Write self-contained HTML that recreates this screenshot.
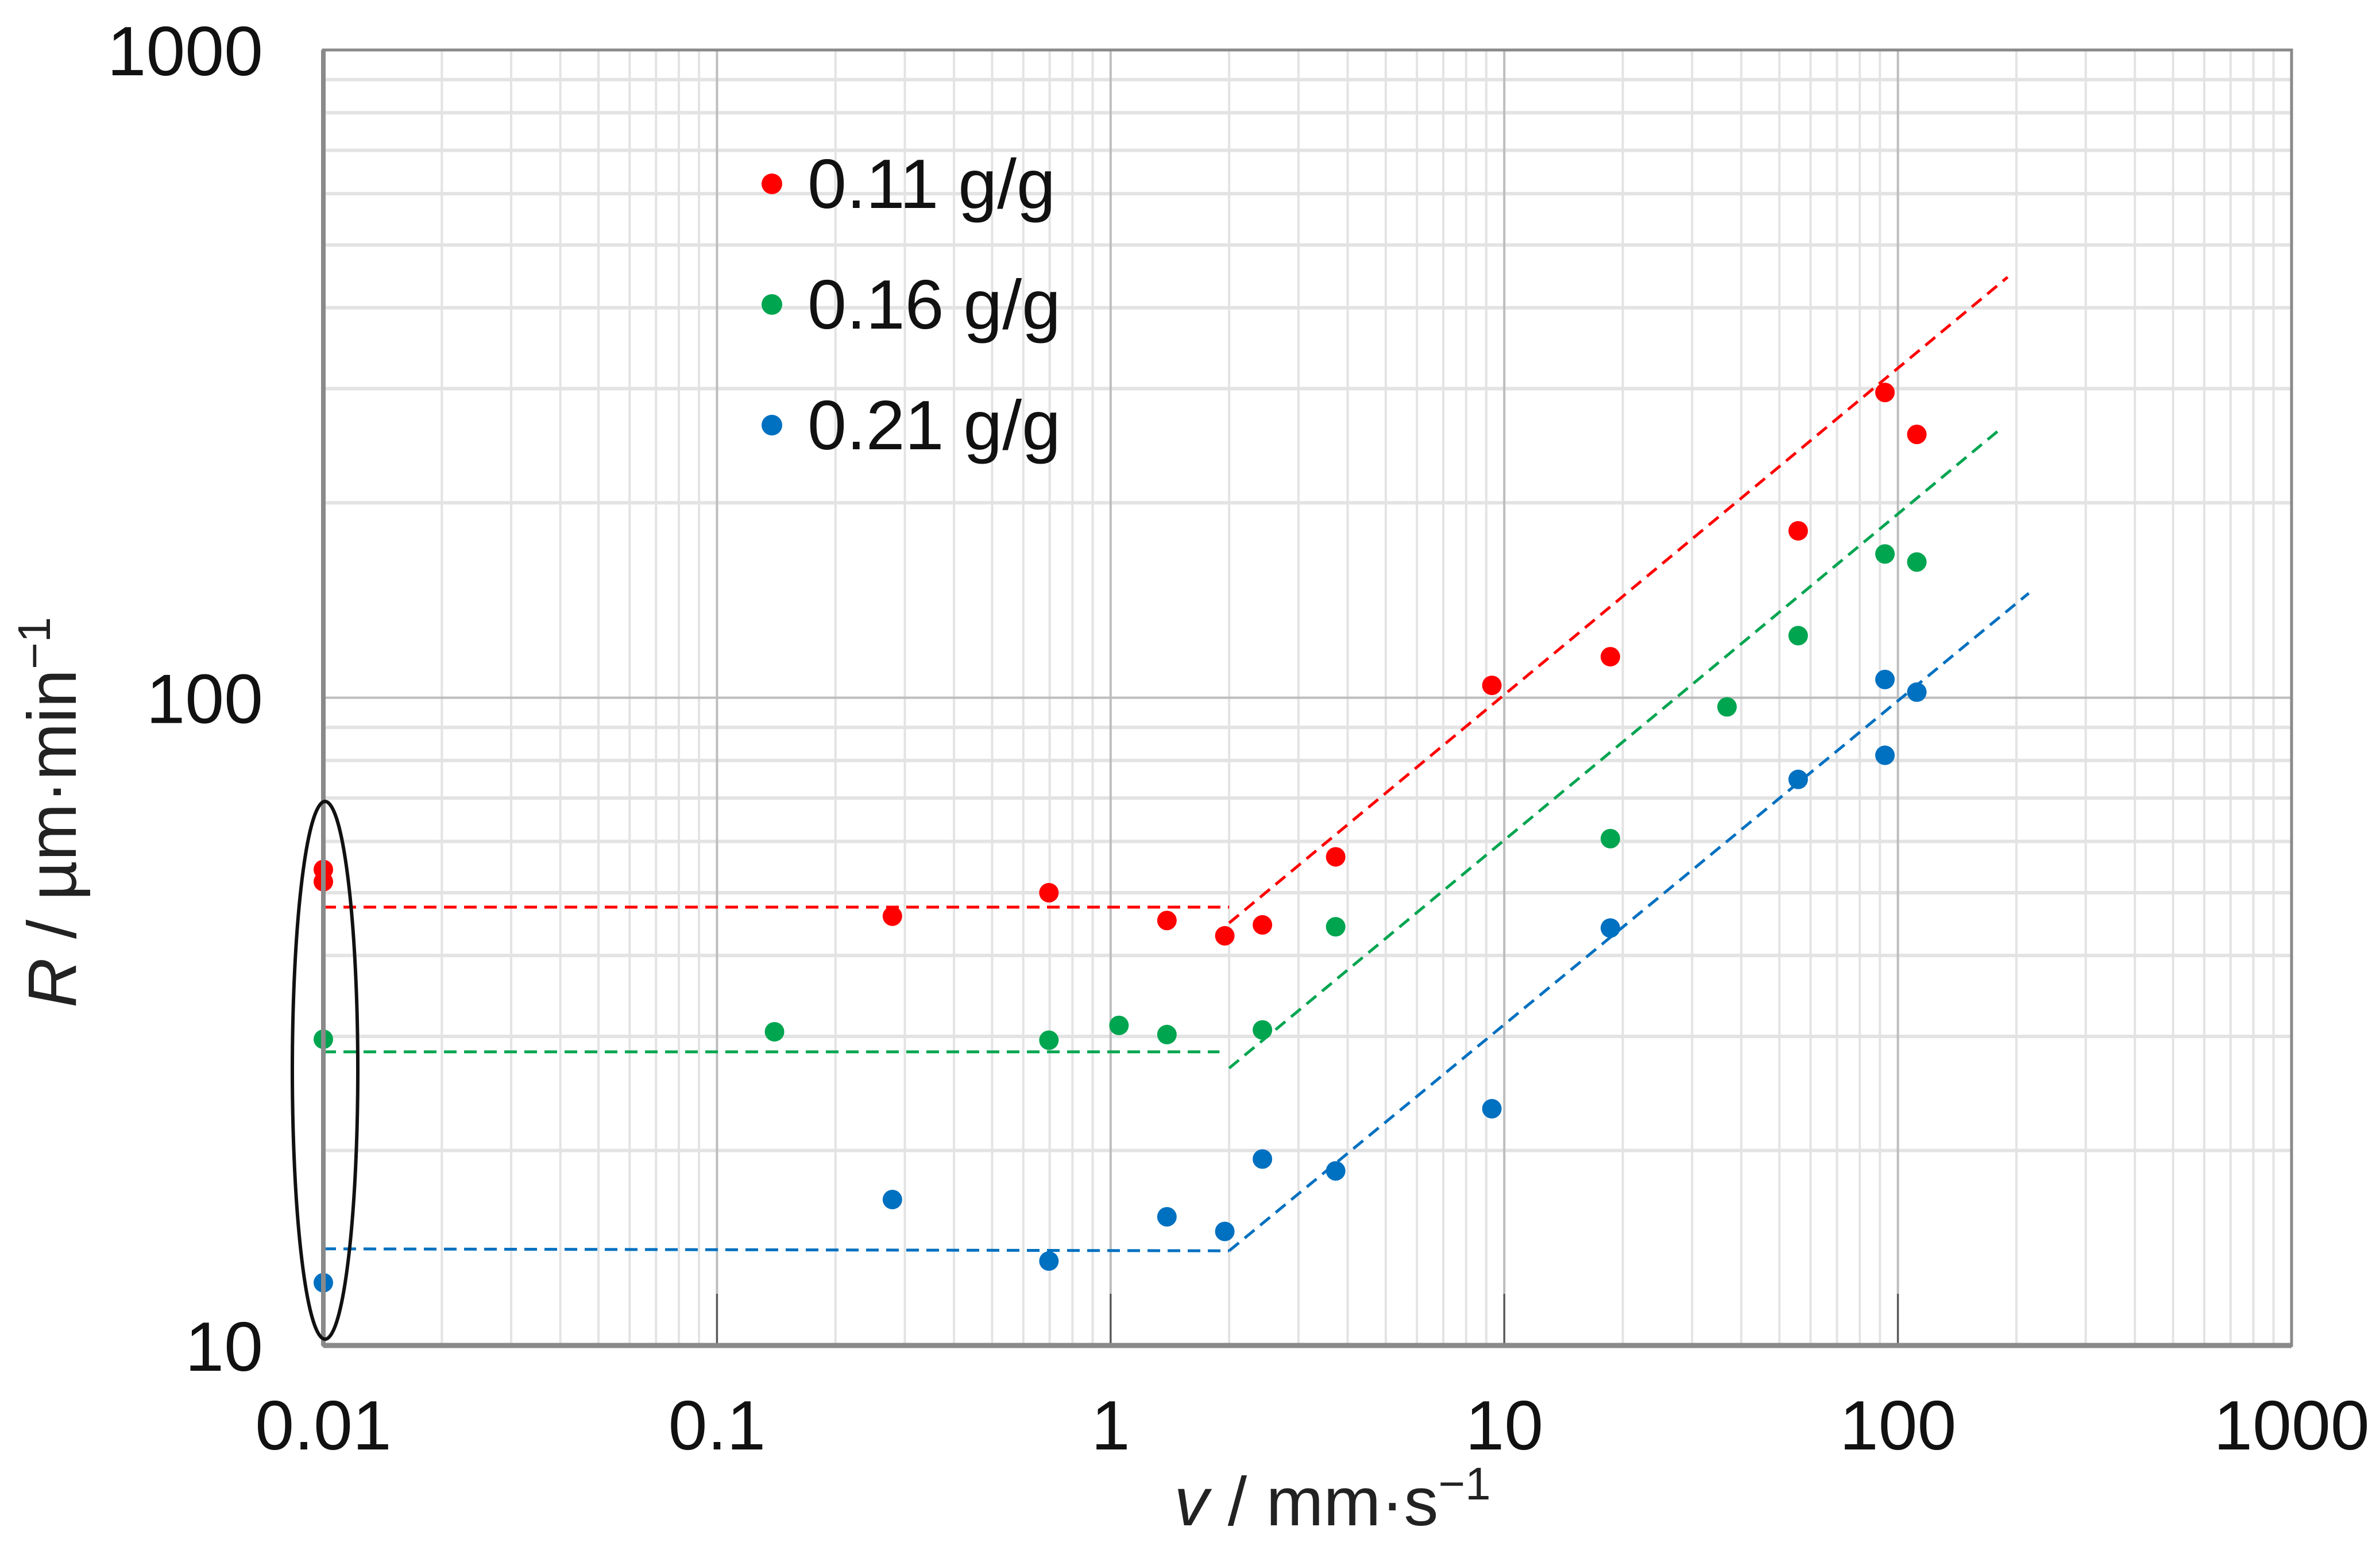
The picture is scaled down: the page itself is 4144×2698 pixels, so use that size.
<!DOCTYPE html>
<html><head><meta charset="utf-8"><style>
html,body{margin:0;padding:0;background:#fff;}
svg{display:block;font-family:"Liberation Sans",sans-serif;}
</style></head><body>
<svg id="chart" width="4144" height="2698" viewBox="0 0 4144 2698" xmlns="http://www.w3.org/2000/svg">
<g id="grid"></g>
<g id="fits"></g>
<g id="points"></g>
<g id="axes"></g>
<ellipse cx="566" cy="1863" rx="57" ry="468" fill="none" stroke="#111" stroke-width="6"/>
<g id="legend"></g>
<text x="2320" y="2655" font-size="120" text-anchor="middle" fill="#222"><tspan font-style="italic">v</tspan> / mm·s<tspan dy="-45" font-size="80">−1</tspan></text>
<text transform="translate(132,1414) rotate(-90)" font-size="120" text-anchor="middle" fill="#222"><tspan font-style="italic">R</tspan> / µm·min<tspan dy="-45" font-size="80">−1</tspan></text>
</svg>
<script>
const xTicks = [0.01, 0.1, 1, 10, 100, 1000];
const xTickLabels = ["0.01", "0.1", "1", "10", "100", "1000"];
const yTicks = [10, 100, 1000];
const yTickLabels = ["10", "100", "1000"];
const seriesNames = ["0.11 g/g", "0.16 g/g", "0.21 g/g"];
const seriesColors = ["#ff0000", "#00a550", "#0070c0"];
const redV = [0.01, 0.01, 0.279, 0.697, 1.39, 1.95, 2.43, 3.73, 9.3, 18.6, 55.8, 92.7, 111.7];
const redR = [54.3, 52, 46, 50, 45.3, 42.9, 44.6, 56.8, 104.5, 115.7, 181, 296, 255];
const greenV = [0.01, 0.14, 0.697, 1.05, 1.39, 2.43, 3.73, 18.6, 36.8, 55.8, 92.7, 111.7];
const greenR = [29.7, 30.5, 29.6, 31.2, 30.2, 30.7, 44.3, 60.6, 96.8, 124.7, 166.7, 162];
const blueV = [0.01, 0.279, 0.697, 1.39, 1.95, 2.43, 3.73, 9.3, 18.6, 55.8, 92.7, 92.7, 111.7];
const blueR = [12.5, 16.8, 13.5, 15.8, 15, 19.4, 18.6, 23.2, 44.1, 74.8, 81.5, 106.7, 102];
// fit lines: [v0,R0,v1,R1] flat segment then sloped segment
const redFitFlat = [0.01, 47.5, 2.0, 47.5];
const redFitSlope = [2.0, 44.9, 190, 446];
const greenFitFlat = [0.01, 28.4, 1.89, 28.4];
const greenFitSlope = [2.0, 26.8, 185, 262];
const blueFitFlat = [0.01, 14.1, 2.0, 14.0];
const blueFitSlope = [2.0, 14.0, 215, 145];

const L=563,R_=3990,T=87,B=2342;
const NS="http://www.w3.org/2000/svg";
function xs(v){return L+(Math.log10(v)-(-2))/5*(R_-L);}
function ys(r){return B-(Math.log10(r)-1)/2*(B-T);}
function mk(tag,attrs,parent){const e=document.createElementNS(NS,tag);for(const k in attrs)e.setAttribute(k,attrs[k]);parent.appendChild(e);return e;}
const grid=document.getElementById('grid');
// minor grid
for(let d=-2;d<3;d++){for(let m=2;m<=9;m++){const x=xs(m*Math.pow(10,d));
 const l=mk('line',{x1:x,y1:T,x2:x,y2:B,stroke:'#e3e3e3','stroke-width':4},grid);
 
 }}
for(let d=1;d<3;d++){for(let m=2;m<=9;m++){const y=ys(m*Math.pow(10,d));
 const l=mk('line',{x1:L,y1:y,x2:R_,y2:y,stroke:'#e3e3e3','stroke-width':6},grid);
 
 }}
xTicks.forEach((t,i)=>{const x=xs(t);
 const l=mk('line',{x1:x,y1:T,x2:x,y2:B,stroke:'#bdbdbd','stroke-width':4},grid);
 
 
 const tm=mk('line',{x1:x,y1:B-90,x2:x,y2:B,stroke:'#555','stroke-width':3},grid);
 
 
 const tx=mk('text',{x:x,y:2523,'font-size':122,'text-anchor':'middle',fill:'#111'},grid);
 tx.textContent=xTickLabels[i];
 
 });
yTicks.forEach((t,i)=>{const y=ys(t);
 const l=mk('line',{x1:L,y1:y,x2:R_,y2:y,stroke:'#bdbdbd','stroke-width':4},grid);
 
 
 const tx=mk('text',{x:458,y:y+44,'font-size':122,'text-anchor':'end',fill:'#111'},grid);
 tx.textContent=yTickLabels[i];
 
 });
const axes=document.getElementById('axes');
const fr=mk('rect',{x:L,y:T,width:R_-L,height:B-T,fill:'none',stroke:'#8a8a8a','stroke-width':5},axes);


const ab=mk('line',{x1:L,y1:B,x2:R_,y2:B,stroke:'#8a8a8a','stroke-width':9},axes);


const al=mk('line',{x1:L,y1:T,x2:L,y2:B,stroke:'#8a8a8a','stroke-width':8},axes);



const fits=document.getElementById('fits');
[[redFitFlat,redFitSlope],[greenFitFlat,greenFitSlope],[blueFitFlat,blueFitSlope]].forEach((pair,si)=>{
 pair.forEach((f,j)=>{const l=mk('line',{x1:xs(f[0]),y1:ys(f[1]),x2:xs(f[2]),y2:ys(f[3]),stroke:seriesColors[si],'stroke-width':5,'stroke-dasharray':'22 13'},fits);
 
 });});

const pts=document.getElementById('points');
[[redV,redR],[greenV,greenR],[blueV,blueR]].forEach((s,si)=>{
 s[0].forEach((v,k)=>{const c=mk('circle',{cx:xs(v),cy:ys(s[1][k]),r:17,fill:seriesColors[si]},pts);
 
 });});

const lg=document.getElementById('legend');
seriesNames.forEach((n,i)=>{const y=320+210*i;
 const c=mk('circle',{cx:1344,cy:y,r:18,fill:seriesColors[i]},lg);
 
 
 const t=mk('text',{x:1406,y:y+42,'font-size':122,fill:'#111'},lg);
 t.textContent=n;
 
 });
</script>
</body></html>
